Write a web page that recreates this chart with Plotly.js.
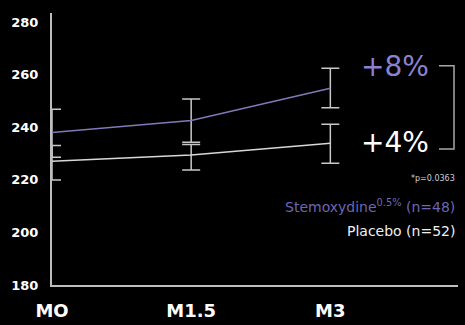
<!DOCTYPE html>
<html><head><meta charset="utf-8">
<script src="https://cdn.plot.ly/plotly-3.0.1.min.js"></script>
<style>html,body{margin:0;padding:0;background:#000;}#chart{width:465px;height:325px;}</style>
</head><body><div id="chart"></div>
<script>
var visits = ['MO', 'M1.5', 'M3'];
var visitX = [0, 1.5, 3];
var stemName = 'Stemoxydine<sup>0.5%</sup> (n=48)';
var stemValues = [238, 242.5, 254.8];
var stemErrPlus = [8.8, 8.2, 7.6];
var stemErrMinus = [9.4, 8.2, 7.4];
var placeboName = 'Placebo (n=52)';
var placeboValues = [227, 229.4, 233.9];
var placeboErrPlus = [6.0, 4.0, 7.2];
var placeboErrMinus = [7.1, 5.7, 7.6];
var yTicks = [180, 200, 220, 240, 260, 280];
var stemChange = '+8%';
var placeboChange = '+4%';
var pNote = '*p=0.0363';

var FONT = '"DejaVu Sans", sans-serif';
var errStyle = {color: '#c8c8c8', thickness: 1.5, width: 9};

var traces = [
  {x: visitX, y: placeboValues, type: 'scatter', mode: 'lines', cliponaxis: false,
   line: {color: '#d8d8d8', width: 1.5}, name: placeboName,
   error_y: Object.assign({type: 'data', symmetric: false, array: placeboErrPlus, arrayminus: placeboErrMinus}, errStyle)},
  {x: visitX, y: stemValues, type: 'scatter', mode: 'lines', cliponaxis: false,
   line: {color: '#7f7ab8', width: 1.5}, name: stemName,
   error_y: Object.assign({type: 'data', symmetric: false, array: stemErrPlus, arrayminus: stemErrMinus}, errStyle)}
];

function px(x){ return (x - 52) / 406; }
function py(y){ return (285 - y) / 272; }

var layout = {
  width: 465, height: 325,
  paper_bgcolor: '#000', plot_bgcolor: '#000',
  margin: {l: 52, r: 7, t: 13, b: 40},
  showlegend: false,
  font: {family: FONT, color: '#fff'},
  xaxis: {range: [0, 4.376], tickmode: 'array', tickvals: visitX, ticktext: visits,
          showgrid: false, zeroline: false, showline: true, linecolor: '#bdbdbd', linewidth: 2,
          ticks: '', ticklabelstandoff: 8, tickfont: {size: 18, family: FONT, weight: 'bold', color: '#fff'}},
  yaxis: {range: [180, 283.4], tickmode: 'array', tickvals: yTicks,
          showgrid: false, zeroline: false, showline: true, linecolor: '#bdbdbd', linewidth: 2,
          ticks: '', ticklabelstandoff: 9, tickfont: {size: 13, family: FONT, weight: 'bold', color: '#fff'}},
  shapes: [
    {type: 'path', xref: 'paper', yref: 'paper',
     path: 'M ' + px(439) + ' ' + py(65.7) + ' L ' + px(454) + ' ' + py(65.7) + ' L ' + px(454) + ' ' + py(149) + ' L ' + px(439) + ' ' + py(149),
     line: {color: '#a8a8a8', width: 1.5}}
  ],
  annotations: [
    {xref: 'paper', yref: 'paper', x: px(395), y: py(67), text: stemChange, showarrow: false,
     font: {size: 28, color: '#8b82cf', family: FONT}, xanchor: 'center', yanchor: 'middle'},
    {xref: 'paper', yref: 'paper', x: px(395), y: py(142), text: placeboChange, showarrow: false,
     font: {size: 28, color: '#fff', family: FONT}, xanchor: 'center', yanchor: 'middle'},
    {xref: 'paper', yref: 'paper', x: px(457), y: py(178), text: pNote, showarrow: false,
     font: {size: 8, color: '#cfcfcf', family: FONT}, xanchor: 'right', yanchor: 'middle'},
    {xref: 'paper', yref: 'paper', x: px(457), y: py(206), text: stemName, showarrow: false,
     font: {size: 14, color: '#6d66b4', family: FONT}, xanchor: 'right', yanchor: 'middle'},
    {xref: 'paper', yref: 'paper', x: px(457), y: py(231), text: placeboName, showarrow: false,
     font: {size: 14, color: '#f0f0f0', family: FONT}, xanchor: 'right', yanchor: 'middle'}
  ]
};

Plotly.newPlot('chart', traces, layout, {displayModeBar: false, staticPlot: true});
</script></body></html>
